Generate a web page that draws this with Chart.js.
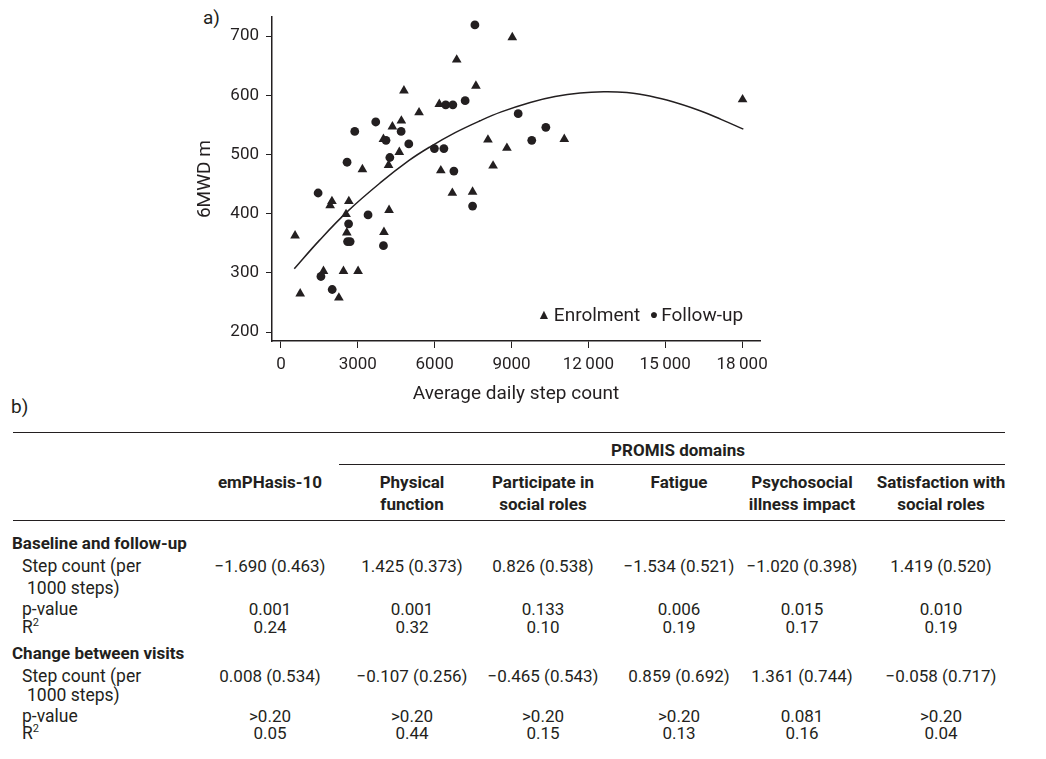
<!DOCTYPE html>
<html>
<head>
<meta charset="utf-8">
<script src="https://cdn.jsdelivr.net/npm/chart.js@4.4.1/dist/chart.umd.min.js"></script>
<style>
  html, body { margin: 0; padding: 0; background: #fff; }
  body { width: 1046px; height: 759px; position: relative; overflow: hidden; font-family: Roboto, "Noto Sans", sans-serif; color: #231f20; }
  #plot { position: absolute; left: 180px; top: 0; }
  .abs { position: absolute; white-space: nowrap; line-height: 20px; }
  .panel { font-size: 19px; }
  .legend { position: absolute; left: 537px; top: 303px; font-size: 19px; line-height: 24px; white-space: nowrap; }
  .legend .mk { font-size: 14px; position: relative; top: -2px; margin-right: 3px; }
  .rule { position: absolute; height: 0; border-top: 1.5px solid #231f20; }
  .tbl { font-size: 17px; }
  .hd { font-weight: bold; text-align: center; }
  .cell { text-align: center; width: 160px; }
  .grp { font-weight: bold; }
  .lab { font-size: 17.5px; }
</style>
</head>
<body>
<div class="abs panel" style="left:203px; top:8px;">a)</div>
<canvas id="plot" width="600" height="410"></canvas>
<div class="legend"><span class="mk">▲</span>Enrolment&nbsp; <span class="mk">●</span>Follow-up</div>
<div class="abs panel" style="left:11px; top:397px;">b)</div>
<div id="table" class="tbl"></div>

<script>
const INK = "#231f20";

// panel a: average daily steps and 6MWD (m)
const enrolSteps = [550, 750, 1660, 1920, 1990, 2260, 2440, 2540, 2570, 2650, 3010, 3180, 4000, 4020, 4200, 4220, 4350, 4620, 4700, 4800, 5390, 6180, 6240, 6690, 6860, 7480, 7610, 8080, 8280, 8820, 9030, 11060, 18020];
const enrolWalk = [363, 265, 303, 414, 421, 258, 303, 399, 368, 421, 303, 475, 526, 369, 482, 406, 547, 504, 557, 608, 571, 585, 473, 435, 660, 437, 616, 525, 481, 511, 698, 526, 593];

const followSteps = [1450, 1560, 2000, 2580, 2600, 2640, 2700, 2880, 3400, 3700, 4000, 4100, 4250, 4690, 4990, 5990, 6360, 6430, 6710, 6750, 7190, 7480, 7570, 9260, 9790, 10340];
const followWalk = [435, 294, 272, 487, 353, 383, 353, 539, 398, 555, 346, 524, 495, 539, 518, 510, 510, 584, 584, 472, 591, 413, 719, 569, 524, 546];

// fitted curve
const fitSteps = [520, 1500, 2600, 3870, 5000, 5820, 6800, 7770, 8600, 9730, 10700, 11680, 12600, 13500, 14020, 15060, 16360, 17200, 18050];
const fitWalk = [307, 355, 404, 452, 490, 513, 537, 557, 572, 588, 598, 604, 606, 605, 602, 592, 574, 559, 543];

const xTickValues = [0, 3000, 6000, 9000, 12000, 15000, 18000];
const xTickLabels = ["0", "3000", "6000", "9000", "12\u2009000", "15\u2009000", "18\u2009000"];
const yTickValues = [200, 300, 400, 500, 600, 700];

// panel b: table
const tableColumns = [["emPHasis-10"], ["Physical", "function"], ["Participate in", "social roles"], ["Fatigue"], ["Psychosocial", "illness impact"], ["Satisfaction with", "social roles"]];
const groupTitles = ["Baseline and follow-up", "Change between visits"];
const baselineStep = ["\u22121.690 (0.463)", "1.425 (0.373)", "0.826 (0.538)", "\u22121.534 (0.521)", "\u22121.020 (0.398)", "1.419 (0.520)"];
const baselineP = ["0.001", "0.001", "0.133", "0.006", "0.015", "0.010"];
const baselineR2 = ["0.24", "0.32", "0.10", "0.19", "0.17", "0.19"];
const changeStep = ["0.008 (0.534)", "\u22120.107 (0.256)", "\u22120.465 (0.543)", "0.859 (0.692)", "1.361 (0.744)", "\u22120.058 (0.717)"];
const changeP = [">0.20", ">0.20", ">0.20", ">0.20", "0.081", ">0.20"];
const changeR2 = ["0.05", "0.44", "0.15", "0.13", "0.16", "0.04"];

function toPoints(xs, ys) {
    return xs.map((x, i) => ({ x, y: ys[i] }));
}

const axisFont = { family: "Roboto", size: 17 };
const titleFont = { family: "Roboto", size: 19 };

new Chart(document.getElementById("plot"), {
    type: "scatter",
    data: {
        datasets: [
            {
                label: "Enrolment",
                data: toPoints(enrolSteps, enrolWalk),
                pointStyle: "triangle",
                pointRadius: 5.6,
                backgroundColor: INK,
                borderColor: INK,
                borderWidth: 0,
                order: 1,
            },
            {
                label: "Follow-up",
                data: toPoints(followSteps, followWalk),
                pointStyle: "circle",
                pointRadius: 4.4,
                backgroundColor: INK,
                borderColor: INK,
                borderWidth: 0,
                order: 1,
            },
            {
                type: "line",
                label: "Fit",
                data: toPoints(fitSteps, fitWalk),
                showLine: true,
                pointRadius: 0,
                borderColor: INK,
                borderWidth: 1.5,
                tension: 0.4,
                fill: false,
                order: 2,
            },
        ],
    },
    options: {
        responsive: false,
        animation: false,
        layout: { padding: { top: 15, right: 20, left: 0, bottom: 0 } },
        plugins: { legend: { display: false }, tooltip: { enabled: false } },
        scales: {
            x: {
                type: "linear",
                min: -350,
                max: 18700,
                afterBuildTicks: (s) => { s.ticks = xTickValues.map((v) => ({ value: v })); },
                afterFit: (s) => { s.height = 69; },
                ticks: {
                    color: INK,
                    font: axisFont,
                    padding: 7,
                    maxRotation: 0,
                    autoSkip: false,
                    callback: (v, i) => xTickLabels[i],
                },
                grid: { drawOnChartArea: false, drawTicks: true, tickLength: 7, color: INK, lineWidth: 1 },
                border: { display: true, color: INK, width: 1.5 },
                title: { display: true, text: "Average daily step count", color: INK, font: titleFont, padding: { top: 0, bottom: 4 } },
            },
            y: {
                type: "linear",
                min: 185,
                max: 732,
                afterBuildTicks: (s) => { s.ticks = yTickValues.map((v) => ({ value: v })); },
                afterFit: (s) => { s.width = 92; },
                ticks: { color: INK, font: axisFont, padding: 7, autoSkip: false },
                grid: { drawOnChartArea: false, drawTicks: true, tickLength: 6, color: INK, lineWidth: 1 },
                border: { display: true, color: INK, width: 1.5 },
                title: { display: true, text: "6MWD m", color: INK, font: titleFont, padding: { top: 14, bottom: 0 } },
            },
        },
    },
});

// table layout
const colCenters = [270, 412, 543, 679, 802, 941];
const table = document.getElementById("table");

function addText(text, left, centerY, cls, extra) {
    const el = document.createElement("div");
    el.className = "abs " + (cls || "");
    el.innerHTML = text;
    el.style.left = left + "px";
    el.style.top = (centerY - 10) + "px";
    if (extra) Object.assign(el.style, extra);
    table.appendChild(el);
    return el;
}

function addRule(x1, x2, y) {
    const el = document.createElement("div");
    el.className = "rule";
    el.style.left = x1 + "px";
    el.style.width = (x2 - x1) + "px";
    el.style.top = y + "px";
    table.appendChild(el);
}

function addRow(values, centerY) {
    values.forEach((v, i) => addText(v, colCenters[i] - 80, centerY, "cell"));
}

addRule(13, 1005, 432);
addText("PROMIS domains", 678 - 100, 450, "hd", { width: "200px" });
addRule(339, 1005, 464);
tableColumns.forEach((lines, i) => {
    lines.forEach((line, j) => addText(line, colCenters[i] - 90, 482 + j * 22, "hd", { width: "180px" }));
});
addRule(13, 1005, 520);

const groups = [
    { title: groupTitles[0], step: baselineStep, p: baselineP, r2: baselineR2, ys: [543, 566, 588, 609, 627] },
    { title: groupTitles[1], step: changeStep, p: changeP, r2: changeR2, ys: [653, 676, 695, 716, 733] },
];

groups.forEach((g) => {
    addText(g.title, 12, g.ys[0], "grp");
    addText("Step count (per", 22, g.ys[1], "lab");
    addText("1000 steps)", 27, g.ys[2], "lab");
    addText("p-value", 22, g.ys[3], "lab");
    addText("R<sup style=\"font-size:11px; line-height:0;\">2</sup>", 22, g.ys[4], "lab");
    addRow(g.step, g.ys[1]);
    addRow(g.p, g.ys[3]);
    addRow(g.r2, g.ys[4]);
});
</script>
</body>
</html>
